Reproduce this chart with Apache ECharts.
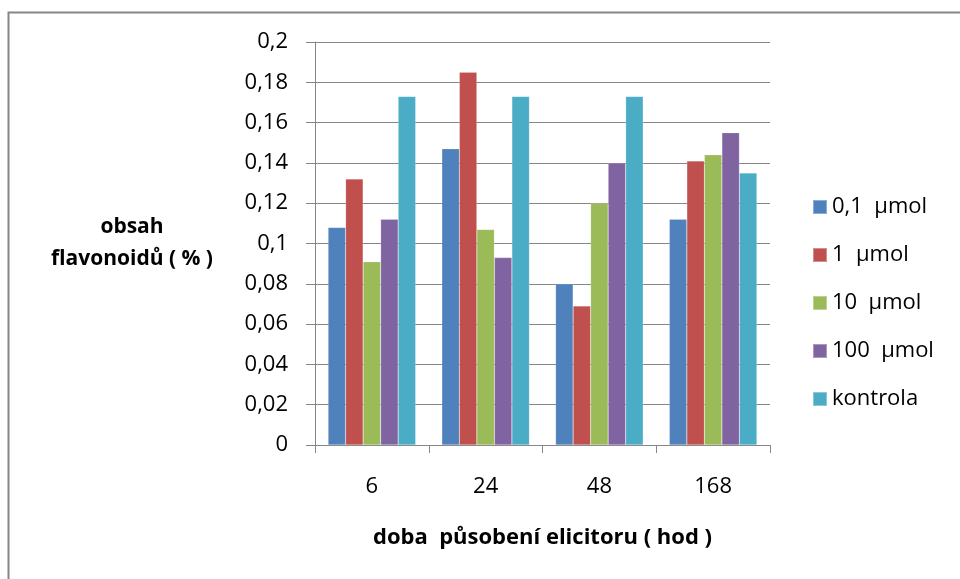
<!DOCTYPE html>
<html>
<head>
<meta charset="utf-8">
<script src="https://cdn.jsdelivr.net/npm/echarts@6/dist/echarts.min.js"></script>
<style>
  html, body { margin: 0; padding: 0; background: #fff; }
  #chart { width: 960px; height: 579px; }
</style>
</head>
<body>
<div id="chart"></div>
<script>
// Exposure times (hours)
const categories = ['6', '24', '48', '168'];

// Flavonoid content (%) per elicitor concentration
const seriesNames = ['0,1  μmol', '1  μmol', '10  μmol', '100  μmol', 'kontrola'];
const conc01 = [0.108, 0.147, 0.080, 0.112];
const conc1 = [0.132, 0.185, 0.069, 0.141];
const conc10 = [0.091, 0.107, 0.120, 0.144];
const conc100 = [0.112, 0.093, 0.140, 0.155];
const kontrola = [0.173, 0.173, 0.173, 0.135];

const seriesData = [conc01, conc1, conc10, conc100, kontrola];
const colors = ['#4F81BD', '#C0504D', '#9BBB59', '#8064A2', '#4BACC6'];

const FONT = '"Open Sans", Lato, sans-serif';

const chart = echarts.init(document.getElementById('chart'), null, { renderer: 'canvas' });

chart.setOption({
  animation: false,
  backgroundColor: '#ffffff',
  color: colors,
  textStyle: { fontFamily: FONT },
  grid: { left: 315, right: 190, top: 42, bottom: 134, containLabel: false },
  legend: {
    orient: 'vertical',
    left: 807,
    top: 191,
    itemWidth: 14,
    itemHeight: 14,
    itemGap: 26,
    icon: 'rect',
    textStyle: { fontFamily: FONT, fontSize: 22, color: '#000', lineHeight: 22 },
    data: seriesNames
  },
  xAxis: {
    type: 'category',
    data: categories,
    axisLine: { lineStyle: { color: '#868686', width: 1 } },
    axisTick: { show: true, length: 8, lineStyle: { color: '#868686' } },
    axisLabel: { fontFamily: FONT, fontSize: 22, color: '#000', margin: 31 },
    name: 'doba  působení elicitoru ( hod )',
    nameLocation: 'middle',
    nameGap: 82,
    nameTextStyle: { fontFamily: FONT, fontSize: 22, fontWeight: 'bold', color: '#000' }
  },
  yAxis: {
    type: 'value',
    min: 0,
    max: 0.2,
    interval: 0.02,
    axisLine: { show: true, lineStyle: { color: '#868686', width: 1 } },
    axisTick: { show: true, length: 9, lineStyle: { color: '#868686' } },
    splitLine: { lineStyle: { color: '#868686', width: 1 } },
    axisLabel: {
      fontFamily: FONT,
      fontSize: 22,
      color: '#000',
      margin: 27,
      formatter: v => String(+v.toFixed(2)).replace('.', ',')
    },
    name: 'obsah\nflavonoidů ( % )',
    nameLocation: 'middle',
    nameRotate: 0,
    nameGap: 183,
    nameTextStyle: {
      fontFamily: FONT, fontSize: 21, fontWeight: 'bold', color: '#000',
      align: 'center', verticalAlign: 'middle', lineHeight: 32
    }
  },
  series: seriesNames.map((name, i) => ({
    name,
    type: 'bar',
    data: seriesData[i],
    barGap: '0%',
    barCategoryGap: '23%',
    itemStyle: { color: colors[i], borderColor: 'rgba(255,255,255,0.35)', borderWidth: 0.5 }
  })),
  graphic: [
    {
      type: 'polyline',
      silent: true,
      shape: { points: [[8.5, 579], [8.5, 12.5], [960, 12.5]] },
      style: { stroke: '#868686', lineWidth: 2, fill: null }
    }
  ]
});
</script>
</body>
</html>
